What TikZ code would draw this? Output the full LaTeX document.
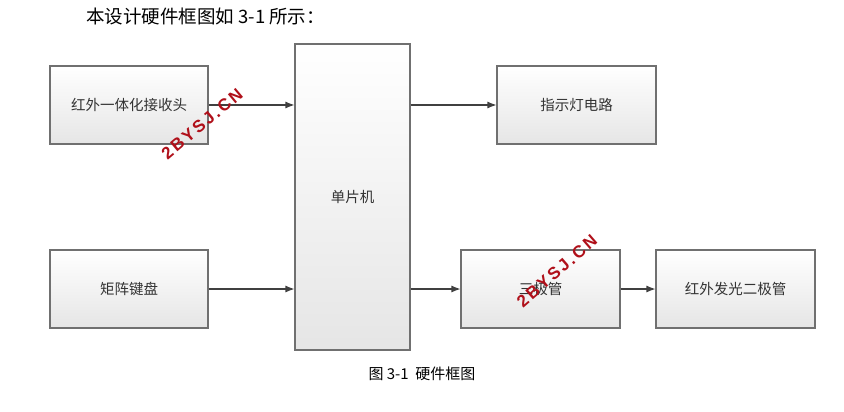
\documentclass[tikz,border=0pt]{standalone}
\usepackage{fontspec}
\setmainfont{Liberation Serif}
\newfontfamily\cjk{Noto Sans CJK SC}
\newfontfamily\wmfont[LetterSpace=14]{Liberation Sans}
\usetikzlibrary{arrows.meta,shadows}
\definecolor{boxline}{HTML}{707070}
\definecolor{arrline}{HTML}{404040}
\definecolor{txtgray}{HTML}{333333}
\definecolor{wmred}{HTML}{B0101A}
\begin{document}
\begin{tikzpicture}[x=1pt,y=-1pt,
  blk/.style={draw=boxline, line width=1.1pt, top color=white, bottom color=black!10,
    drop shadow={shadow xshift=1.2pt, shadow yshift=-1.2pt, fill=black!20, opacity=0.6},
    font=\cjk\fontsize{14.5}{16}\selectfont, text=txtgray, inner sep=0pt},
  arr/.style={draw=arrline, line width=1.1pt, -{Latex[length=9pt,width=7pt]}},
  wm/.style={font=\wmfont\bfseries\fontsize{17}{18}\selectfont, text=wmred, inner sep=0pt}]
\useasboundingbox[fill=white] (0,0) rectangle (844,412);
\node[font=\cjk\fontsize{18.5}{20}\selectfont, anchor=west, inner sep=0pt] (head) at (86,16) {本设计硬件框图如 3-1 所示：};
\node[blk, minimum width=158pt, minimum height=78pt] (ir) at (129,105) {红外一体化接收头};
\node[blk, minimum width=158pt, minimum height=78pt] (kb) at (129,289) {矩阵键盘};
\node[blk, minimum width=115pt, minimum height=306pt] (mcu) at (352.5,197) {单片机};
\node[blk, minimum width=159pt, minimum height=78pt] (led) at (576.5,105) {指示灯电路};
\node[blk, minimum width=159pt, minimum height=78pt] (tr) at (540.5,289) {三极管};
\node[blk, minimum width=159pt, minimum height=78pt] (irled) at (735.5,289) {红外发光二极管};
\draw[arr] (ir.east) -- (ir.east -| mcu.west);
\draw[arr] (kb.east) -- (kb.east -| mcu.west);
\draw[arr] (mcu.east |- led.west) -- (led.west);
\draw[arr] (mcu.east |- tr.west) -- (tr.west);
\draw[arr] (tr.east) -- (irled.west);
\node[font=\cjk\fontsize{15}{17}\selectfont, inner sep=0pt] (cap) at (422,374) {图 3-1\ \ 硬件框图};
\node[wm, rotate=40] (wm1) at (202,124) {2BYSJ.CN};
\node[wm, rotate=41] (wm2) at (557,271) {2BYSJ.CN};
\end{tikzpicture}
\end{document}
